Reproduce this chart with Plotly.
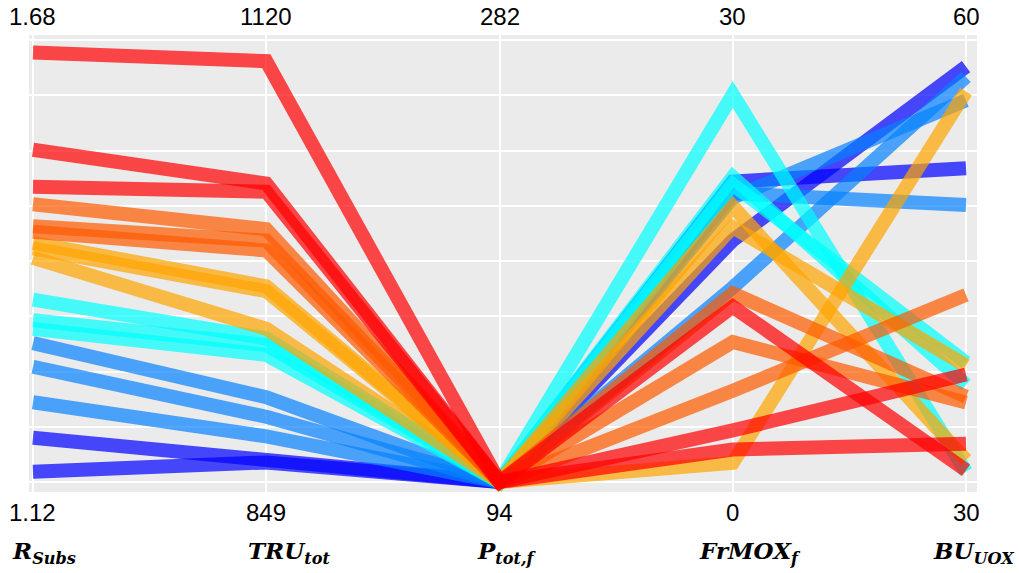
import plotly.graph_objects as go

# Parallel-coordinate axes: names, ranges and end labels
axis_titles = ["R<sub>Subs</sub>", "TRU<sub>tot</sub>", "P<sub>tot,f</sub>",
               "FrMOX<sub>f</sub>", "BU<sub>UOX</sub>"]
axis_min = [1.12, 849, 94, 0, 30]
axis_max = [1.68, 1120, 282, 30, 60]
min_labels = ["1.12", "849", "94", "0", "30"]
max_labels = ["1.68", "1120", "282", "30", "60"]

# One entry per design (ordered by R_Subs, low to high)
r_subs = [1.133, 1.176, 1.221, 1.266, 1.296, 1.314, 1.325, 1.351,
          1.404, 1.416, 1.423, 1.437, 1.444, 1.472, 1.494, 1.541, 1.664]
tru_tot = [861, 862, 877, 889, 901, 927, 933, 937,
           943, 966, 969, 991, 997, 1004, 1027, 1032, 1107]
p_tot_f = [94, 94, 94, 94, 94, 94, 94, 94,
           94, 94, 94, 94, 94, 94, 94, 94, 94]
frmox_f = [16.4, 20.4, 13.2, 19.3, 19.6, 20.2, 20.7, 26.3,
           1.3, 17.3, 18.7, 6.2, 9.5, 12.8, 3.5, 11.9, 2.2]
bu_uox = [58.2, 51.3, 57.5, 55.9, 48.8, 38.1, 36.6, 30.7,
          56.5, 37.9, 31.5, 42.7, 35.4, 35.8, 37.3, 30.8, 32.6]
line_colors = ["#0000FF", "#0000FF",
               "#0582FF", "#0582FF", "#0582FF",
               "#00FFFF", "#00FFFF", "#00FFFF",
               "#FFA500", "#FFA500", "#FFA500",
               "#FF5A00", "#FF5A00", "#FF5A00",
               "#FF0000", "#FF0000", "#FF0000"]

columns = [r_subs, tru_tot, p_tot_f, frmox_f, bu_uox]
n_axes = len(axis_titles)


def scaled(value, k):
    return (value - axis_min[k]) / (axis_max[k] - axis_min[k])


fig = go.Figure()
for i, color in enumerate(line_colors):
    ys = [scaled(columns[k][i], k) for k in range(n_axes)]
    fig.add_trace(go.Scatter(
        x=list(range(n_axes)), y=ys, mode="lines",
        line=dict(color=color, width=14),
        opacity=0.7, hoverinfo="skip", showlegend=False,
    ))

tick_font = dict(family="Liberation Sans, Arial, sans-serif", size=24, color="black")
title_font = dict(family="DejaVu Serif, serif", size=23, color="black",
                  weight="bold", style="italic")
title_shift = [11, 23, 7, 17, 7]

annotations = []
for k in range(n_axes):
    annotations.append(dict(x=k, y=1, xref="x", yref="paper", text=max_labels[k],
                            showarrow=False, xanchor="center", yanchor="middle",
                            yshift=19, font=tick_font))
    annotations.append(dict(x=k, y=0, xref="x", yref="paper", text=min_labels[k],
                            showarrow=False, xanchor="center", yanchor="middle",
                            yshift=-20, font=tick_font))
    annotations.append(dict(x=k, y=0, xref="x", yref="paper", text=axis_titles[k],
                            showarrow=False, xanchor="center", yanchor="middle",
                            xshift=title_shift[k], yshift=-60, font=title_font))

fig.update_layout(
    width=1019, height=573,
    margin=dict(l=29, r=42, t=35, b=81),
    paper_bgcolor="white", plot_bgcolor="#EBEBEB",
    annotations=annotations,
    xaxis=dict(range=[-0.017, 4.047], tickmode="array", tickvals=list(range(n_axes)),
               showticklabels=False, showgrid=True, gridcolor="white", gridwidth=1.5,
               zeroline=False, showline=False, ticks=""),
    yaxis=dict(range=[-0.0226, 1.0113], tickmode="array",
               tickvals=[j / 8 for j in range(9)], showticklabels=False,
               showgrid=True, gridcolor="white", gridwidth=1.5,
               zeroline=False, showline=False, ticks=""),
)

fig.write_html("out.html")
